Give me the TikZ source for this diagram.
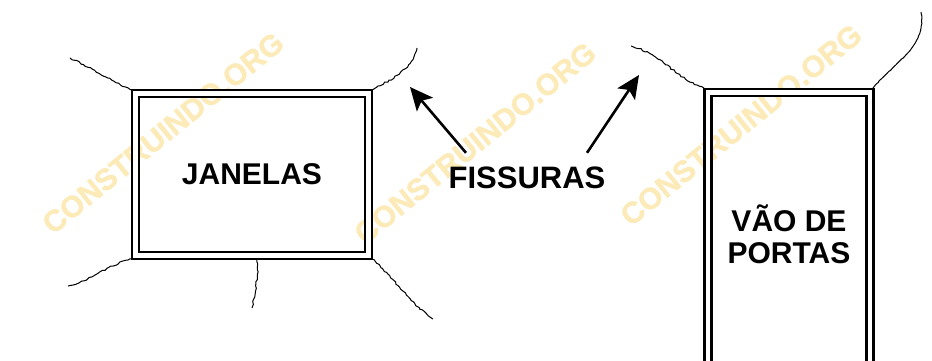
\documentclass[tikz,border=0pt]{standalone}
\usepackage{fontspec}
\setmainfont{Liberation Sans}
\newfontfamily\marcafont[FakeBold=1.5]{Liberation Sans Bold}
\usepackage{xcolor}
\usetikzlibrary{arrows.meta,decorations.pathmorphing,positioning}
\definecolor{marcadagua}{rgb}{0.99, 0.92, 0.72}
\tikzset{
  rotulo/.style={font=\fontsize{30}{32}\selectfont\bfseries, align=center, inner sep=0pt},
  marca/.style={font=\fontsize{30}{30}\selectfont\marcafont, color=marcadagua, rotate=39, inner sep=0pt},
  vao/.style={draw, line width=2.3pt, double, double distance=4.8pt},
  fissura/.style={line width=1pt, decorate, decoration={random steps,segment length=2.5pt,amplitude=0.8pt}},
  seta/.style={->, >={Stealth[length=23pt,width=21pt,inset=5pt]}, line width=2.6pt}
}
\pgfmathsetseed{7}
\begin{document}
\begin{tikzpicture}[x=1pt,y=-1pt]
      \useasboundingbox (0,0) rectangle (932,361);
      \node[marca] (m1) at (163,133) {CONSTRUINDO.ORG};
      \node[marca] (m2) at (475,143) {CONSTRUINDO.ORG};
      \node[marca] (m3) at (741,125) {CONSTRUINDO.ORG};
      \node[vao, rectangle, minimum width=232.5pt, minimum height=161.5pt, inner sep=0pt, outer sep=3.5pt] (0) at (252,174.5) {};
      \node[rotulo] (1) at (252,174) {JANELAS};
      \node[rotulo, font=\fontsize{31}{32}\selectfont\bfseries] (2) at (527,178) {FISSURAS};
      \node[rotulo] (3) at (789,234) {VÃO DE\\PORTAS};
      \draw[vao] (708,361) |- (870,92.5) -- (870,361);
      \coordinate (4) at (704,88);
      \coordinate (5) at (873,88);
      \coordinate (6) at (257,259);
      % pontas das fissuras
      \coordinate (a) at (70,58);
      \coordinate (b) at (417,48);
      \coordinate (c) at (68,286);
      \coordinate (d) at (252,308);
      \coordinate (e) at (433,319);
      \coordinate (f) at (631,46);
      \coordinate (g) at (921,12);
      \draw[fissura] (0.north west) to [out=155,in=-25] (a);
      \draw[fissura] (0.north east) to [out=30,in=-105] (b);
      \draw[fissura] (0.south west) to [out=195,in=15] (c);
      \draw[fissura] (6) to [out=-85,in=80] (d);
      \draw[fissura] (0.south east) to [out=-40,in=145] (e);
      \draw[fissura] (4) to [out=160,in=-15] (f);
      \draw[fissura, decoration={amplitude=0.3pt}] (5) to [out=50,in=-80] (g);
      % setas
      \coordinate (h) at (410,87);
      \coordinate (i) at (639,75);
      \draw[seta] ([xshift=-61pt,yshift=14pt]2.north) -- (h);
      \draw[seta] ([xshift=60pt,yshift=14pt]2.north) -- (i);
    \end{tikzpicture}
\end{document}
